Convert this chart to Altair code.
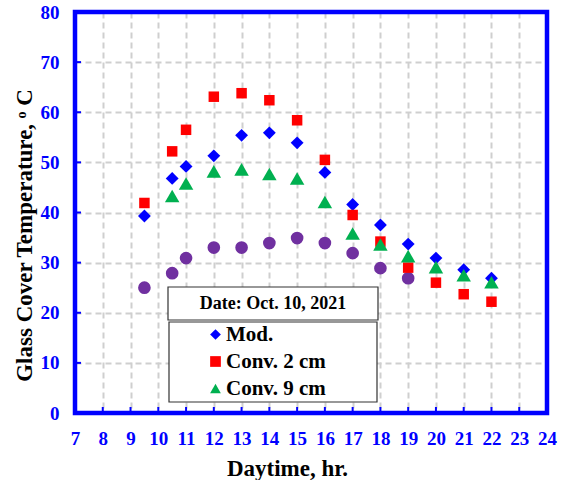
import altair as alt
import pandas as pd

# Measured glass cover temperatures (deg C) over the day
mod_hours = [9.5, 10.5, 11, 12, 13, 14, 15, 16, 17, 18, 19, 20, 21, 22]
mod_temp = [39.3, 46.8, 49.2, 51.3, 55.4, 55.9, 53.9, 48.0, 41.6, 37.5, 33.7, 30.9, 28.6, 26.9]

conv2_hours = [9.5, 10.5, 11, 12, 13, 14, 15, 16, 17, 18, 19, 20, 21, 22]
conv2_temp = [41.9, 52.2, 56.5, 63.1, 63.8, 62.4, 58.4, 50.5, 39.5, 34.2, 29.0, 26.0, 23.7, 22.2]

conv9_hours = [10.5, 11, 12, 13, 14, 15, 16, 17, 18, 19, 20, 21, 22]
conv9_temp = [43.3, 45.8, 48.2, 48.6, 47.7, 46.8, 42.1, 35.8, 33.6, 31.3, 29.1, 27.5, 26.1]

amb_hours = [9.5, 10.5, 11, 12, 13, 14, 15, 16, 17, 18, 19]
amb_temp = [25.0, 27.9, 30.9, 33.0, 33.0, 33.9, 34.9, 33.9, 31.9, 28.9, 26.9]

series_names = ["Mod.", "Conv. 2 cm", "Conv. 9 cm"]
series_colors = ["#0000FF", "#FF0000", "#00B050"]
series_shapes = ["diamond", "square", "triangle-up"]

x_ticks = list(range(7, 25))
y_ticks = list(range(0, 90, 10))

W, H = 472, 401
FONT = "Liberation Serif"
BLUE = "#0000FF"

rows = []
for name, hrs, temps in [
    (series_names[0], mod_hours, mod_temp),
    (series_names[1], conv2_hours, conv2_temp),
    (series_names[2], conv9_hours, conv9_temp),
]:
    for h, t in zip(hrs, temps):
        rows.append({"hour": h, "temp": t, "series": name})
df = pd.DataFrame(rows)
amb = pd.DataFrame({"hour": amb_hours, "temp": amb_temp})

x_scale = alt.Scale(domain=[7, 24], nice=False, zero=False)
y_scale = alt.Scale(domain=[0, 80], nice=False)

axis_common = dict(
    grid=True, ticks=False, tickSize=0, domain=False, labelFlush=False,
    labelOverlap=False, labelPadding=16,
    labelFont=FONT, labelFontWeight="bold", labelFontSize=19, labelColor=BLUE,
    titleFont=FONT, titleFontWeight="bold", titleFontSize=23, titleColor="black",
    gridColor="#CFCFCF", gridDash=[6, 4], gridWidth=2,
)
x_axis = alt.Axis(
    values=x_ticks, title="Daytime, hr.",
    titleX=212, titleY=62, titleBaseline="alphabetic", titleAlign="center",
    **axis_common,
)
y_axis = alt.Axis(
    values=y_ticks, title="Glass Cover Temperature, \u1d52 C",
    titleX=-51, titleY=223, titleAngle=-90, titleAlign="center", titleBaseline="middle",
    **axis_common,
)

base_x = alt.X("hour:Q", scale=x_scale, axis=x_axis)
base_y = alt.Y("temp:Q", scale=y_scale, axis=y_axis)

# Inward tick marks along the bottom and left frame
xt = pd.DataFrame({"hour": x_ticks[1:-1]})
x_tick_marks = alt.Chart(xt).mark_rule(color=BLUE, strokeWidth=2).encode(
    x=alt.X("hour:Q", scale=x_scale, axis=x_axis),
    y=alt.value(H), y2=alt.value(H - 6),
)
yt = pd.DataFrame({"temp": y_ticks[1:-1]})
y_tick_marks = alt.Chart(yt).mark_rule(color=BLUE, strokeWidth=2).encode(
    y=alt.Y("temp:Q", scale=y_scale, axis=y_axis),
    x=alt.value(0), x2=alt.value(6),
)

one = pd.DataFrame({"k": [0]})
date_box = alt.Chart(one).mark_rect(fill="white", stroke="#333333", strokeWidth=1.2).encode(
    x=alt.value(93), x2=alt.value(303), y=alt.value(275), y2=alt.value(308)
)
date_text = alt.Chart(one).mark_text(
    text="Date: Oct. 10, 2021", font=FONT, fontWeight="bold", fontSize=18, color="black",
    align="center", baseline="middle",
).encode(x=alt.value(198), y=alt.value(292))
legend_box = alt.Chart(one).mark_rect(fill="white", stroke="#333333", strokeWidth=1.2).encode(
    x=alt.value(94), x2=alt.value(302), y=alt.value(310), y2=alt.value(390)
)

# Blue plot frame drawn over the grid
frame = alt.Chart(one).mark_rect(fill=None, stroke=BLUE, strokeWidth=4.5).encode(
    x=alt.value(0), x2=alt.value(W), y=alt.value(0), y2=alt.value(H)
)

ambient = alt.Chart(amb).mark_point(filled=True, opacity=1, shape="circle", size=160,
                                     color="#7030A0").encode(x=base_x, y=base_y)

legend = alt.Legend(
    title=None, orient="none", legendX=130, legendY=312, padding=0,
    labelFont=FONT, labelFontWeight="bold", labelFontSize=21, labelColor="black",
    symbolSize=115, rowPadding=5, labelOffset=0, symbolStrokeWidth=0, labelLimit=300,
)

points = alt.Chart(df).mark_point(filled=True, opacity=1).encode(
    x=base_x,
    y=base_y,
    color=alt.Color("series:N", scale=alt.Scale(domain=series_names, range=series_colors),
                    legend=legend),
    shape=alt.Shape("series:N", scale=alt.Scale(domain=series_names, range=series_shapes),
                    legend=legend),
    size=alt.Size("msize:Q", scale=None, legend=None),
    order=alt.Order("idx:Q"),
).transform_calculate(
    idx="indexof(['Mod.', 'Conv. 2 cm', 'Conv. 9 cm'], datum.series)",
    msize="datum.series === 'Mod.' ? 165 : (datum.series === 'Conv. 2 cm' ? 110 : 210)",
)

chart = alt.layer(
    date_box, legend_box, date_text, ambient, points, x_tick_marks, y_tick_marks, frame
).properties(
    width=W, height=H,
    autosize=alt.AutoSizeParams(type="none"),
    padding={"left": 75, "top": 12, "right": 19, "bottom": 67},
    background="white",
).configure_view(
    stroke=None,
)

chart.save("out.html", embed_options={"renderer": "svg", "actions": False})
